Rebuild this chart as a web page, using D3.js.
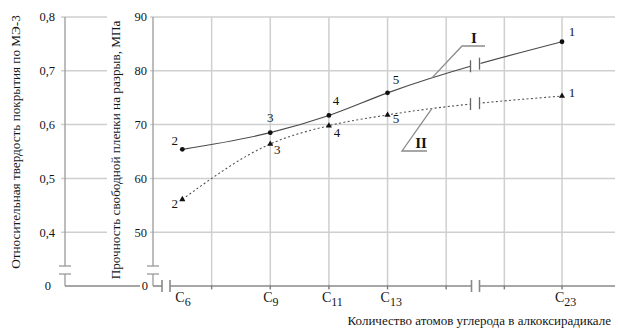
<!DOCTYPE html>
<html lang="ru">
<head>
<meta charset="UTF-8">
<title>Прочность и твердость</title>
<style>
  body { margin: 0; background: #fff; }
  svg { display: block; }
  svg text { font-family: "Liberation Serif", "Times New Roman", "DejaVu Serif", serif; fill: #151515; }
</style>
</head>
<body>
<svg width="618" height="329"></svg>
<script src="https://cdn.jsdelivr.net/npm/d3@7"></script>
<script>
// данные
const carbons = [6, 9, 11, 13, 23];
const carbonLabels = ["6", "9", "11", "13", "23"];
const sampleNo = ["2", "3", "4", "5", "1"];
const seriesI = [65.4, 68.5, 71.7, 75.9, 85.4];   // сплошная, МПа
const seriesII = [56.1, 66.4, 69.8, 71.8, 75.3];  // пунктир
const gridCarbons = [5, 7, 9, 11, 13, 15, 21, 23];
const strengthTicks = [50, 60, 70, 80, 90];
const hardnessTicks = [0.4, 0.5, 0.6, 0.7, 0.8];

const svg = d3.select("svg");
const gridCol = "#cfcfcf", axisCol = "#9a9a9a", lineCol = "#4a4a4a";

const axL = 65, axR = 153, yTop = 17, yBase = 286, xEnd = 615;
const xb = 475.5; // разрыв оси x
const brk = [266, 274]; // разрыв осей y

// ось x с разрывом: 16..20 сжато в точку
const x = d3.scaleLinear().domain([5, 16, 20, 23]).range([axR, xb, xb, 562]);
const y = d3.scaleLinear().domain([40, 90]).range([yBase, yTop]);
const yH = d3.scaleLinear().domain([0.3, 0.8]).range([yBase, yTop]);

// сетка
svg.append("g").selectAll("line").data(strengthTicks).join("line")
  .attr("x1", axR - 3).attr("x2", xEnd)
  .attr("y1", d => y(d)).attr("y2", d => y(d))
  .attr("stroke", gridCol).attr("stroke-width", 1.5);
svg.append("g").selectAll("line").data(hardnessTicks).join("line")
  .attr("x1", axL - 4).attr("x2", 107)
  .attr("y1", d => yH(d)).attr("y2", d => yH(d))
  .attr("stroke", gridCol).attr("stroke-width", 1.5);
svg.append("g").selectAll("line").data(gridCarbons.slice(1)).join("line")
  .attr("x1", d => x(d)).attr("x2", d => x(d))
  .attr("y1", yTop).attr("y2", yBase + 4)
  .attr("stroke", gridCol).attr("stroke-width", 1.5);
// метки на оси x
svg.append("g").selectAll("line").data(gridCarbons.slice(1)).join("line")
  .attr("x1", d => x(d)).attr("x2", d => x(d))
  .attr("y1", yBase - 1).attr("y2", yBase + 3)
  .attr("stroke", "#777").attr("stroke-width", 1.2);

// оси y с разрывом
function yAxisLine(ax) {
  const g = svg.append("g").attr("stroke", axisCol).attr("stroke-width", 1.3);
  g.append("line").attr("x1", ax).attr("x2", ax).attr("y1", yTop).attr("y2", brk[0]);
  g.append("line").attr("x1", ax).attr("x2", ax).attr("y1", brk[1]).attr("y2", yBase);
  brk.forEach(b => g.append("line").attr("x1", ax - 6).attr("x2", ax + 6).attr("y1", b).attr("y2", b));
}
yAxisLine(axL);
yAxisLine(axR);

// нулевая линия левой оси
svg.append("line").attr("x1", axL).attr("x2", 140).attr("y1", yBase).attr("y2", yBase)
  .attr("stroke", "#888").attr("stroke-width", 1.5);

// ось x с разрывами
const xa = svg.append("g").attr("stroke", "#8a8a8a").attr("stroke-width", 1.6);
xa.append("line").attr("x1", axR).attr("x2", 162).attr("y1", yBase).attr("y2", yBase);
xa.append("line").attr("x1", 170).attr("x2", xb - 4).attr("y1", yBase).attr("y2", yBase);
xa.append("line").attr("x1", xb + 4).attr("x2", xEnd).attr("y1", yBase).attr("y2", yBase);
[162, 170, xb - 4, xb + 4].forEach(v =>
  xa.append("line").attr("x1", v).attr("x2", v).attr("y1", yBase - 6).attr("y2", yBase + 6));

// подписи делений
svg.append("g").selectAll("text").data(hardnessTicks).join("text")
  .attr("x", 55).attr("y", d => yH(d)).attr("dy", "0.35em")
  .attr("text-anchor", "end").attr("font-size", 12.5)
  .text(d => d3.format(".1f")(d).replace(".", ","));
svg.append("g").selectAll("text").data(strengthTicks).join("text")
  .attr("x", 147).attr("y", d => y(d)).attr("dy", "0.35em")
  .attr("text-anchor", "end").attr("font-size", 12.5)
  .text(d => d);
svg.append("text").attr("x", 51).attr("y", yBase).attr("dy", "0.35em")
  .attr("text-anchor", "end").attr("font-size", 12.5).text("0");
svg.append("text").attr("x", 148).attr("y", yBase).attr("dy", "0.35em")
  .attr("text-anchor", "end").attr("font-size", 12.5).text("0");

// подписи категорий C с индексом
const xl = svg.append("g").selectAll("text").data(carbons).join("text")
  .attr("x", d => x(d) - 7).attr("y", 302).attr("font-size", 14);
xl.append("tspan").text("C");
xl.append("tspan").attr("font-size", 12).attr("dy", 4).text((d, i) => carbonLabels[i]);

// названия осей
svg.append("text").attr("transform", "translate(20,142) rotate(-90)")
  .attr("text-anchor", "middle").attr("font-size", 13.2)
  .text("Относительная твердость покрытия по МЭ-3");
svg.append("text").attr("transform", "translate(120,150) rotate(-90)")
  .attr("text-anchor", "middle").attr("font-size", 13.2)
  .text("Прочность свободной пленки на разрыв, МПа");
svg.append("text").attr("x", 611).attr("y", 325)
  .attr("text-anchor", "end").attr("font-size", 13)
  .text("Количество атомов углерода в алкоксирадикале");

// маска для разрыва линий
const defs = svg.append("defs");
const mask = defs.append("mask").attr("id", "gap").attr("maskUnits", "userSpaceOnUse")
  .attr("x", 0).attr("y", 0).attr("width", 618).attr("height", 329);
mask.append("rect").attr("width", 618).attr("height", 329).attr("fill", "#fff");
mask.append("rect").attr("x", xb - 5).attr("width", 10).attr("y", 0).attr("height", 329).attr("fill", "#000");

const line = d3.line().x(d => x(d[0])).y(d => y(d[1])).curve(d3.curveMonotoneX);

function yAtX(path, px) {
  const node = path.node(), len = node.getTotalLength();
  let lo = 0, hi = len;
  for (let k = 0; k < 40; k++) {
    const mid = (lo + hi) / 2;
    if (node.getPointAtLength(mid).x < px) lo = mid; else hi = mid;
  }
  return node.getPointAtLength(lo).y;
}

function drawSeries(vals, dash, marker, place) {
  const pts = carbons.map((c, i) => [c, vals[i]]);
  const p = svg.append("path").datum(pts).attr("d", line)
    .attr("fill", "none").attr("stroke", dash ? "#555" : lineCol)
    .attr("stroke-width", dash ? 1.1 : 1.2)
    .attr("stroke-dasharray", dash ? "2,2.4" : null)
    .attr("mask", "url(#gap)");
  [xb - 5, xb + 4].forEach(v => {
    const yy = yAtX(p, v);
    svg.append("line").attr("x1", v).attr("x2", v).attr("y1", yy - 6).attr("y2", yy + 6)
      .attr("stroke", "#666").attr("stroke-width", 1.3);
  });
  svg.append("g").selectAll("path").data(pts).join("path")
    .attr("transform", d => `translate(${x(d[0])},${y(d[1])})`)
    .attr("d", d3.symbol(marker, marker === d3.symbolCircle ? 18 : 16))
    .attr("fill", "#111");
  svg.append("g").selectAll("text").data(pts).join("text")
    .attr("x", (d, i) => x(d[0]) + place[i][0])
    .attr("y", (d, i) => y(d[1]) + place[i][1])
    .attr("text-anchor", "middle").attr("font-size", 13)
    .text((d, i) => sampleNo[i]);
  return p;
}

// смещения подписей точек
const placeI = [[-7.5, -4], [0, -11], [7, -10], [8.5, -9], [10, -6]];
const placeII = [[-7.5, 9], [7, 10], [8, 11], [8.5, 8], [10, 1]];
const pI = drawSeries(seriesI, false, d3.symbolCircle, placeI);
const pII = drawSeries(seriesII, true, d3.symbolTriangle, placeII);

// выноски I и II
function callout(path, px, lx, ly, ux2, label, tx) {
  const py = yAtX(path, px);
  svg.append("polyline")
    .attr("points", `${px},${py} ${lx},${ly} ${ux2},${ly}`)
    .attr("fill", "none").attr("stroke", "#8a8a8a").attr("stroke-width", 1.3);
  svg.append("text").attr("x", tx).attr("y", ly - 3).attr("font-size", 15)
    .attr("font-weight", "bold").attr("text-anchor", "middle").text(label);
}
callout(pI, 432, 462, 46, 485, "I", 474);
callout(pII, 432, 402, 151, 427, "II", 421);
</script>
</body>
</html>
